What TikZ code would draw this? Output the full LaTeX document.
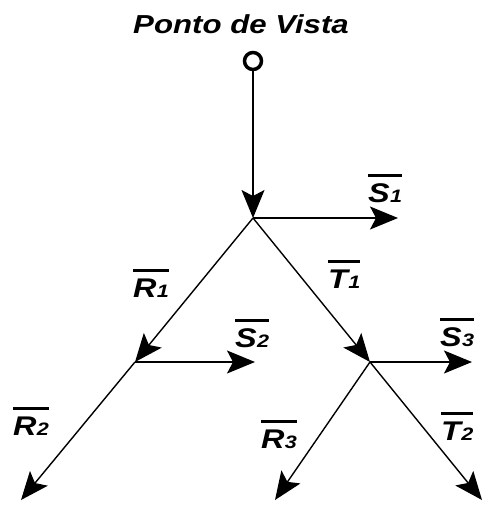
\documentclass[tikz,border=0pt]{standalone}
\usepackage{fontspec}
\setmainfont{Liberation Sans}[FakeStretch=1.2]
\usetikzlibrary{arrows.meta}
\newcommand\vlab[2]{\setbox0\hbox{\fontsize{27}{28}\selectfont\bfseries\itshape #1\kern0.5pt\fontsize{18}{18}\selectfont #2}\vbox{\hrule height 3pt width \wd0 \kern 6pt \box0}}
\begin{document}
\begin{tikzpicture}[x=1pt,y=-1pt,
  vec/.style={line width=1.4pt,-{Stealth[length=28pt,width=23pt,inset=6pt]}},
  lab/.style={anchor=base west,inner sep=0pt,outer sep=0pt},
  jn/.style={coordinate}]
\useasboundingbox (0,0) rectangle (492,507);
\node[anchor=base,inner sep=0pt] (title) at (241,33) {\fontsize{26}{28}\selectfont\bfseries\itshape Ponto de Vista};
\node[circle,draw,line width=3.5pt,minimum size=17pt,inner sep=0pt] (eye) at (253,61) {};
\coordinate (n1) at (253,218);
\coordinate (n2) at (135,362);
\coordinate (n3) at (370,362);
\coordinate (s1) at (398,218);
\coordinate (s2) at (255,362);
\coordinate (s3) at (472,362);
\coordinate (r2) at (21,500);
\coordinate (r3) at (275,500);
\coordinate (t2) at (482,500);
\draw[vec] (eye.south) -- (n1);
\draw[vec] (n1) -- (s1);
\draw[vec] (n1) -- (n2);
\draw[vec] (n1) -- (n3);
\draw[vec] (n2) -- (s2);
\draw[vec] (n2) -- (r2);
\draw[vec] (n3) -- (s3);
\draw[vec] (n3) -- (r3);
\draw[vec] (n3) -- (t2);
\node[lab] (ls1) at (368,202) {\vlab{S}{1}};
\node[lab] (lr1) at (133,297) {\vlab{R}{1}};
\node[lab] (lt1) at (328,288) {\vlab{T}{1}};
\node[lab] (ls2) at (235,347) {\vlab{S}{2}};
\node[lab] (ls3) at (440,346) {\vlab{S}{3}};
\node[lab] (lr2) at (13,435) {\vlab{R}{2}};
\node[lab] (lr3) at (261,448) {\vlab{R}{3}};
\node[lab] (lt2) at (441,440) {\vlab{T}{2}};
\end{tikzpicture}
\end{document}
